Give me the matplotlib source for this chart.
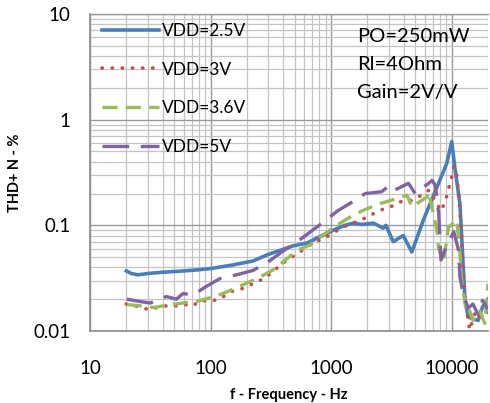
import matplotlib
matplotlib.use('Agg')
import matplotlib.pyplot as plt

plt.rcParams['font.family'] = ['Lato', 'DejaVu Sans']

# VDD = 2.5 V
f_25 = [20, 22, 25, 30, 40, 60, 80, 100, 150, 225, 300, 485, 630, 1040, 1300, 1530, 1800,
        2240, 2700, 2850, 3270, 3960, 4670, 5800, 7540, 9100, 10000, 10700, 11700, 12300,
        12900, 13700, 15000, 16600, 18000, 20000]
thd_25 = [0.037, 0.035, 0.034, 0.035, 0.036, 0.037, 0.038, 0.039, 0.042, 0.046, 0.053,
          0.064, 0.068, 0.09, 0.1, 0.105, 0.102, 0.105, 0.094, 0.1, 0.07, 0.08, 0.056, 0.111,
          0.23, 0.385, 0.62, 0.33, 0.16, 0.054, 0.0195, 0.0136, 0.013, 0.0126, 0.0169, 0.02]

# VDD = 3 V
f_3 = [20, 21.5, 25, 31, 37, 43, 52, 61, 71, 82, 96, 115, 154, 180, 250, 290, 380, 430,
       500, 585, 670, 920, 1080, 1260, 1480, 1740, 2040, 2400, 2760, 3200, 3740, 4800,
       5600, 6500, 7540, 8100, 8870, 9200, 10000, 10400, 11000, 11700, 12100, 12500, 12900,
       13700, 14100, 15800, 17000, 20000]
thd_3 = [0.018, 0.0178, 0.017, 0.0159, 0.0168, 0.0173, 0.0173, 0.0178, 0.0173, 0.0193,
         0.0193, 0.0197, 0.024, 0.025, 0.0296, 0.0325, 0.042, 0.047, 0.052, 0.0587, 0.0655,
         0.078, 0.087, 0.0965, 0.104, 0.111, 0.122, 0.134, 0.144, 0.152, 0.167, 0.173,
         0.193, 0.216, 0.162, 0.137, 0.167, 0.2, 0.288, 0.36, 0.31, 0.14, 0.075, 0.035,
         0.0195, 0.0126, 0.0102, 0.0155, 0.0136, 0.015]

# VDD = 3.6 V
f_36 = [20.2, 26, 34, 43, 59, 77, 112, 136, 200, 258, 345, 415, 535, 670, 890, 1110, 1440,
        1850, 2530, 3160, 4250, 4670, 6220, 6420, 7540, 7780, 8550, 9400, 10300, 11000,
        11700, 12100, 13300, 14100, 15000, 17100, 18800, 20000]
thd_36 = [0.0178, 0.0173, 0.0167, 0.0175, 0.0184, 0.019, 0.0215, 0.0234, 0.0284, 0.0325,
          0.039, 0.047, 0.0587, 0.0655, 0.0834, 0.1, 0.12, 0.139, 0.16, 0.173, 0.193, 0.15,
          0.185, 0.208, 0.09, 0.06, 0.045, 0.096, 0.105, 0.113, 0.054, 0.03, 0.0145, 0.0155,
          0.0126, 0.0155, 0.0118, 0.028]

# VDD = 5 V
f_5 = [20.2, 26, 31.5, 43, 52, 59, 72, 93, 120, 169, 226, 300, 390, 520, 860, 1130, 1440,
       1920, 2620, 3080, 3380, 4380, 4980, 6650, 6870, 7300, 7800, 8150, 9140, 10400, 11400,
       11700, 12500, 13700, 15000, 16500, 18000, 20000]
thd_5 = [0.02, 0.019, 0.0184, 0.0212, 0.02, 0.0226, 0.022, 0.0266, 0.0314, 0.0343, 0.0375,
         0.045, 0.056, 0.0695, 0.107, 0.137, 0.162, 0.2, 0.208, 0.24, 0.216, 0.25, 0.2,
         0.257, 0.267, 0.24, 0.13, 0.047, 0.065, 0.087, 0.058, 0.0325, 0.022, 0.0165, 0.018,
         0.0144, 0.0195, 0.016]

fig = plt.figure(figsize=(4.9, 4.03), dpi=100)
ax = fig.add_axes([90 / 490, 1 - 331 / 403, 398 / 490, 317 / 403])

ax.plot(f_25, thd_25, color='#4a7ebb', lw=2.6, label='VDD=2.5V', solid_joinstyle='round')
ax.plot(f_3, thd_3, color='#c0504d', lw=2.6, linestyle=(0, (0.1, 2.7)),
        dash_capstyle='round', label='VDD=3V')
ax.plot(f_36, thd_36, color='#9bbb59', lw=2.4, linestyle=(0, (4.5, 2.5)), label='VDD=3.6V')
ax.plot(f_5, thd_5, color='#8064a2', lw=2.4, linestyle=(0, (8, 3.5)), label='VDD=5V')

ax.set_xscale('log')
ax.set_yscale('log')
ax.set_xlim(10, 20000)
ax.set_ylim(0.01, 10)

ax.grid(True, which='major', color='#9a9a9a', lw=1.0)
ax.grid(True, which='minor', color='#c4c4c4', lw=0.9)
ax.set_axisbelow(True)
ax.spines['right'].set_visible(False)
ax.spines['top'].set_color('#9a9a9a')
ax.spines['top'].set_linewidth(1.0)
for side in ['left', 'bottom']:
    ax.spines[side].set_color('#8c8c8c')
    ax.spines[side].set_linewidth(1.2)
ax.tick_params(which='both', length=0)
ax.set_xticks([10, 100, 1000, 10000])
ax.set_xticklabels(['10', '100', '1000', '10000'])
ax.set_yticks([0.01, 0.1, 1, 10])
ax.set_yticklabels(['0.01', '0.1', '1', '10'])
ax.tick_params(axis='x', labelsize=13.5, pad=21)
ax.tick_params(axis='y', labelsize=13.5, pad=14)

ax.set_xlabel('f - Frequency - Hz', fontsize=10.5, fontweight='bold', labelpad=8)
ax.set_ylabel('THD+ N - %', fontsize=10.5, fontweight='bold', labelpad=8)

ax.legend(loc='upper left', bbox_to_anchor=(0.0, 1.01), frameon=False, fontsize=12.5,
          handlelength=3.3, handletextpad=0.15, labelspacing=1.3, borderaxespad=0.3)

ax.text(0.672, 0.955, 'PO=250mW\nRl=4Ohm\nGain=2V/V', transform=ax.transAxes,
        fontsize=14.5, va='top', ha='left', linespacing=1.78)

fig.savefig('out.png', dpi=100)
